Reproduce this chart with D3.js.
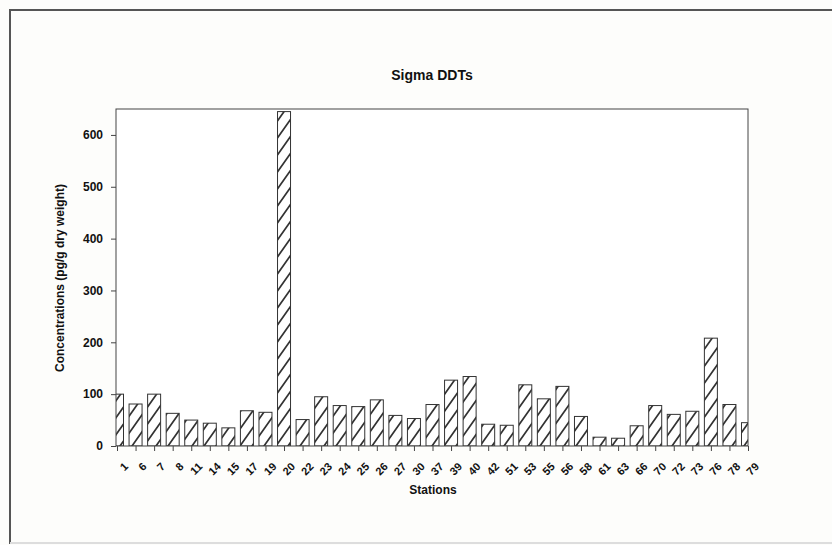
<!DOCTYPE html>
<html><head><meta charset="utf-8">
<script src="https://cdn.jsdelivr.net/npm/d3@7"></script>
<style>
body{margin:0;background:#fdfdfb;}
svg{display:block;}
text{font-family:Arial,"Liberation Sans",sans-serif;fill:#111;}
</style></head>
<body><svg id="c" width="832" height="545"></svg>
<script>
const stations = ["1","6","7","8","11","14","15","17","19","20","22","23","24","25","26","27","30","37","39","40","42","51","53","55","56","58","61","63","66","70","72","73","76","78","79"];
const values = [100,81,100,63,50,44,35,68,65,645,51,95,78,76,89,59,53,80,127,134,42,40,118,91,115,57,17,15,39,78,61,67,208,80,45];
const yTicks = [0,100,200,300,400,500,600];
const title = "Sigma DDTs";
const xTitle = "Stations";
const yTitle = "Concentrations (pg/g dry weight)";

const svg = d3.select("#c");
svg.append("rect").attr("x",10).attr("y",10).attr("width",860).attr("height",533)
  .attr("fill","#fdfdfb").attr("stroke","#555").attr("stroke-width",2);
svg.append("line").attr("x1",10).attr("x2",832).attr("y1",543).attr("y2",543).attr("stroke","#ddd").attr("stroke-width",2);

const L=116,R=748,T=109,B=446;
const x = d3.scalePoint().domain(stations).range([L+1,R]);
const y = d3.scaleLinear().domain([0,650]).range([B,T]);
const bw = 13;

const defs = svg.append("defs");
const pat = defs.append("pattern").attr("id","hatch").attr("patternUnits","userSpaceOnUse")
  .attr("width",12).attr("height",17).attr("patternTransform","translate(0,"+B+")");
pat.append("rect").attr("width",12).attr("height",17).attr("fill","#fff");
pat.append("path").attr("d","M-1.4,19 L13.4,-2 M-13.4,19 L1.4,-2 M10.6,19 L25.4,-2").attr("stroke","#333").attr("stroke-width",1.7);
defs.append("clipPath").attr("id","clip").append("rect").attr("x",L).attr("y",T).attr("width",R-L).attr("height",B-T);

svg.append("rect").attr("x",L).attr("y",T).attr("width",R-L).attr("height",B-T).attr("fill","#fff");

svg.append("g").attr("clip-path","url(#clip)").selectAll("rect").data(values).join("rect")
  .attr("x",(d,i)=>x(stations[i])-bw/2).attr("width",bw)
  .attr("y",d=>y(d)).attr("height",d=>B-y(d))
  .attr("fill","url(#hatch)").attr("stroke","#333").attr("stroke-width",1);

svg.append("rect").attr("x",L).attr("y",T).attr("width",R-L).attr("height",B-T)
  .attr("fill","none").attr("stroke","#444").attr("stroke-width",1);

const ya = svg.append("g").attr("transform",`translate(${L},0)`)
  .call(d3.axisLeft(y).tickValues(yTicks).tickSize(5).tickPadding(8));
ya.select(".domain").remove();
ya.selectAll("line").attr("stroke","#444");
ya.selectAll("text").attr("font-size",12).attr("font-weight","bold").attr("fill","#111");

const xa = svg.append("g").attr("transform",`translate(0,${B})`)
  .call(d3.axisBottom(x).tickSize(5).tickPadding(0));
xa.select(".domain").remove();
xa.selectAll("line").attr("stroke","#444");
xa.selectAll("text").attr("font-size",11).attr("font-weight","bold").attr("fill","#111")
  .attr("text-anchor","end").attr("dy","0.35em")
  .attr("transform","translate(5,15) rotate(-45)");

svg.append("text").attr("x",432).attr("y",80).attr("text-anchor","middle")
  .attr("font-size",14).attr("font-weight","bold").text(title);
svg.append("text").attr("x",433).attr("y",494).attr("text-anchor","middle")
  .attr("font-size",12).attr("font-weight","bold").text(xTitle);
svg.append("text").attr("transform","translate(64,278) rotate(-90)").attr("text-anchor","middle")
  .attr("font-size",12).attr("font-weight","bold").text(yTitle);
</script></body></html>
